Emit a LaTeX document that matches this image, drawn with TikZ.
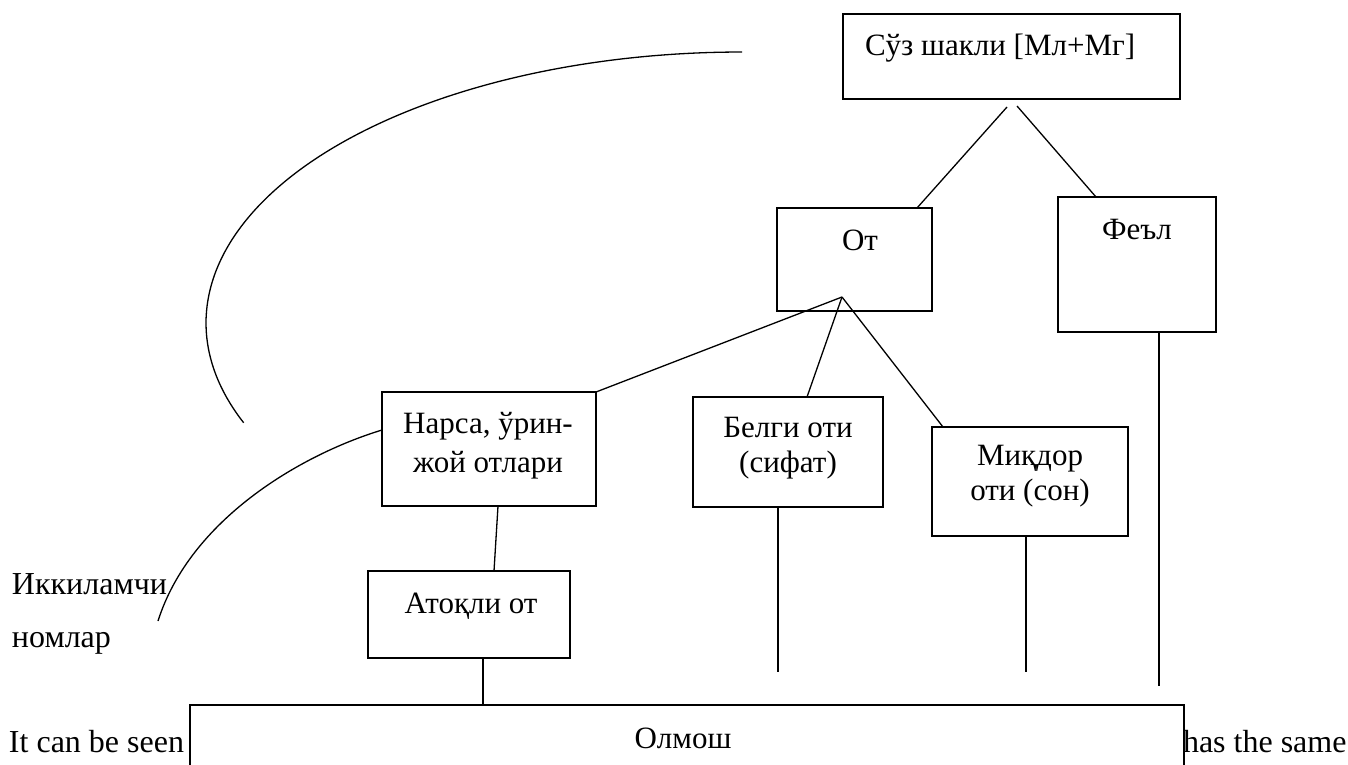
\documentclass[tikz,border=0pt]{standalone}
\usepackage{fontspec}
\setmainfont{Liberation Serif}
\begin{document}
\begin{tikzpicture}[x=1pt,y=-1pt,
  every node/.style={inner sep=0pt, outer sep=0pt},
  txt/.style={font=\fontsize{31}{37}\selectfont, anchor=base},
  body/.style={font=\fontsize{32}{38}\selectfont, anchor=base west},
  boxst/.style={draw, line width=1.5pt, rectangle},
  conn/.style={line width=1.3pt}]
\useasboundingbox (0,0) rectangle (1348,764);
% body text behind the big box
\node[body] (it) at (9,752) {It can be seen};
\node[body] (has) at (1183,752) {has the same};
% boxes
\node[boxst, minimum width=337pt, minimum height=85pt] (suz) at (1011.5,56.5) {};
\node[boxst, minimum width=155pt, minimum height=103pt] (ot) at (854.5,259.5) {};
\node[boxst, minimum width=158pt, minimum height=135pt] (feel) at (1137,264.5) {};
\node[boxst, minimum width=214pt, minimum height=114pt] (narsa) at (489,449) {};
\node[boxst, minimum width=190pt, minimum height=110pt] (belgi) at (788,452) {};
\node[boxst, minimum width=196pt, minimum height=109pt] (miqdor) at (1030,481.5) {};
\node[boxst, minimum width=202pt, minimum height=87pt] (atoqli) at (469,614.5) {};
\node[boxst, fill=white, minimum width=994pt, minimum height=90pt] (olmosh) at (687,750) {};
\draw[line width=2.4pt] (olmosh.north west) -- (olmosh.north east);
% texts
\node[txt, anchor=base west] (tsuz) at (865,55) {Сўз шакли [Мл+Мг]};
\node[txt] (tot) at (860,250) {От};
\node[txt] (tfeel) at (1137,239) {Феъл};
\node[txt] (tnarsa1) at (488,433) {Нарса, ўрин-};
\node[txt] (tnarsa2) at (488,472) {жой отлари};
\node[txt] (tbelgi1) at (788,437) {Белги оти};
\node[txt] (tbelgi2) at (788,472) {(сифат)};
\node[txt] (tmiq1) at (1030,465) {Миқдор};
\node[txt] (tmiq2) at (1030,500) {оти (сон)};
\node[txt] (tatoq) at (471,613) {Атоқли от};
\node[txt] (tolm) at (683,748) {Олмош};
\node[body] (tikk1) at (12,594) {Иккиламчи};
\node[body] (tikk2) at (12,647) {номлар};
% connectors
\coordinate (suzA) at (1007,107);
\coordinate (suzB) at (1017,106);
\coordinate (otA) at (842,297);
\draw[conn] (suzA) -- ([xshift=62.5pt]ot.north);
\draw[conn] (suzB) -- ([xshift=-41pt]feel.north);
\draw[conn] (otA) -- (narsa.north east);
\draw[conn] (otA) -- ([xshift=19pt]belgi.north);
\draw[conn] (otA) -- ([xshift=11pt]miqdor.north west);
\draw[conn] ([xshift=9pt]narsa.south) -- ([xshift=25pt]atoqli.north);
\draw[conn] ([xshift=14pt]atoqli.south) -- ([xshift=14pt]atoqli.south |- olmosh.north);
\coordinate (belgiE) at (778,672);
\coordinate (miqE) at (1026,672);
\coordinate (feelE) at (1159,686);
\draw[conn] ([xshift=-10pt]belgi.south) -- (belgiE);
\draw[conn] ([xshift=-4pt]miqdor.south) -- (miqE);
\draw[conn] ([xshift=22pt]feel.south) -- (feelE);
% curves
\draw[conn] plot[domain=90:201.6, samples=80, smooth] ({742+536*cos(\x)}, {323-271*sin(\x)});
\coordinate (curveE) at (158,621);
\draw[conn] ([yshift=19pt]narsa.west) .. controls (300,455) and (190,520) .. (curveE);
\end{tikzpicture}
\end{document}
